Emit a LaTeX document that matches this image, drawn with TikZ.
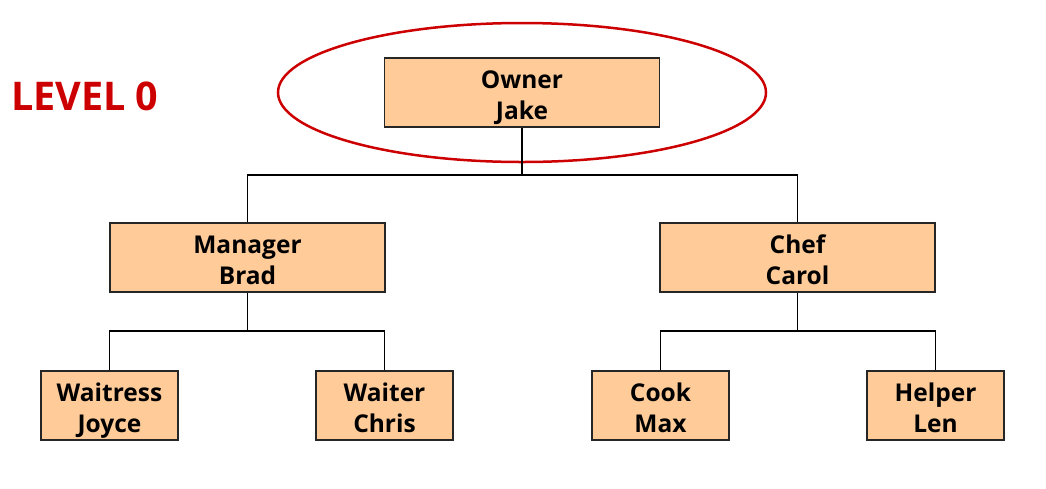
\documentclass[tikz,border=0pt]{standalone}
\usepackage{fontspec}
\setmainfont{Open Sans}
\usetikzlibrary{shapes.geometric}
\definecolor{boxfill}{RGB}{255,204,153}
\definecolor{lvlred}{RGB}{204,0,0}
\begin{document}
\begin{tikzpicture}[x=1pt,y=-1pt,
  person/.style={draw=black!85,line width=1.4pt,fill=boxfill,minimum height=69pt,inner sep=0pt,
    label={[font=\fontsize{24.5}{31}\selectfont\bfseries,align=center,inner sep=0pt,
      text height=48.5pt,text depth=0pt,yshift=-2.5pt]center:#1}},
  wide/.style={person={#1},minimum width=275pt},
  narrow/.style={person={#1},minimum width=137pt},
  link/.style={draw=black,line width=1.2pt}]
\useasboundingbox (0,0) rectangle (1046,488);
\node[wide={Owner\\Jake}] (owner) at (522,92.5) {};
\node[draw=lvlred,line width=2.5pt,ellipse,minimum width=488pt,minimum height=139pt,inner sep=0pt] (ring) at (522,92.5) {};
\node[wide={Manager\\Brad}] (mgr) at (247.5,257.5) {};
\node[wide={Chef\\Carol}] (chef) at (797.5,257.5) {};
\node[narrow={Waitress\\Joyce}] (waitress) at (109.5,405.5) {};
\node[narrow={Waiter\\Chris}] (waiter) at (384.5,405.5) {};
\node[narrow={Cook\\Max}] (cook) at (660.5,405.5) {};
\node[narrow={Helper\\Len}] (helper) at (935.5,405.5) {};
\node[anchor=west,text=lvlred,font=\fontsize{39.5}{40}\selectfont\bfseries,inner sep=0pt] (lvl) at (11,96) {LEVEL 0};
\coordinate (j0) at (522,175);
\coordinate (j1) at (247.5,331);
\coordinate (j2) at (797.5,331);
\draw[link] (owner.south) -- (j0);
\draw[link] (mgr.north) |- (j0) -| (chef.north);
\draw[link] (mgr.south) -- (j1);
\draw[link] (waitress.north) |- (j1) -| (waiter.north);
\draw[link] (chef.south) -- (j2);
\draw[link] (cook.north) |- (j2) -| (helper.north);
\end{tikzpicture}
\end{document}
